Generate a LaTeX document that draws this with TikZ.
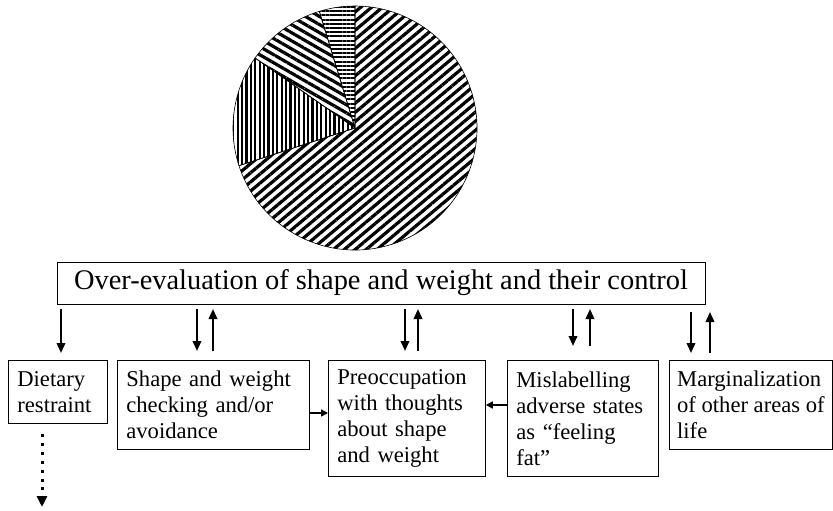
\documentclass[tikz,border=0pt]{standalone}
\usepackage{fontspec}
\setmainfont{Liberation Serif}
\usetikzlibrary{patterns.meta,arrows.meta}
\begin{document}
\begin{tikzpicture}[x=1pt,y=-1pt,
  lbox/.style={draw,line width=0.8pt,anchor=north west,align=left,inner xsep=9pt,inner ysep=0pt,
    font=\fontsize{22.6}{26}\selectfont},
  arr/.style={line width=2pt,-{Triangle[length=10pt,width=8.5pt]}},
  harr/.style={line width=1.6pt,-{Triangle[length=7pt,width=7pt]}},
  darr/.style={line width=3pt,dash pattern=on 3pt off 5.9pt,-{Triangle[length=11pt,width=10pt]}},
  slice/.style={draw,line width=0.6pt}]
\useasboundingbox (0,0) rectangle (833,511);
% pie
\coordinate (C) at (355,128);
\path[slice,pattern={Lines[angle=0,distance=4.2pt,line width=2pt]}]
  (C) -- ++(90:122pt) arc[start angle=90,end angle=107,radius=122pt] -- cycle;
\path[slice,pattern={Lines[angle=-30,distance=7pt,line width=3.2pt]}]
  (C) -- ++(107:122pt) arc[start angle=107,end angle=145,radius=122pt] -- cycle;
\path[slice,pattern={Lines[angle=90,distance=4.4pt,line width=2.2pt]}]
  (C) -- ++(145:122pt) arc[start angle=145,end angle=198,radius=122pt] -- cycle;
\path[slice,pattern={Lines[angle=40,distance=7pt,line width=3.2pt]}]
  (C) -- ++(198:122pt) arc[start angle=198,end angle=450,radius=122pt] -- cycle;
% boxes
\node[draw,line width=0.8pt,minimum width=648pt,minimum height=42pt,inner sep=0pt,
  font=\fontsize{28.4}{34}\selectfont] (top) at (381,283) {Over-evaluation of shape and weight and their control};
\node[lbox,text width=81pt,minimum height=63pt] (diet) at (8,360) {Dietary\\restraint};
\node[lbox,text width=174pt,minimum height=89pt] (check) at (117,360) {Shape and weight\\checking and/or\\avoidance};
\node[lbox,text width=139pt,minimum height=116pt] (preo) at (328,360) {Preoccupation\\with thoughts\\about shape\\and weight};
\node[lbox,text width=133pt,minimum height=116pt] (misl) at (507,360) {Mislabelling\\adverse states\\as “feeling\\fat”};
\node[lbox,inner xsep=7pt,minimum width=163pt,minimum height=89pt] (marg) at (669,360) {Marginalization\\of other areas of\\life};
% arrows
\draw[arr] (61,309) -- (61,353);
\draw[arr] (197,309) -- (197,351);
\draw[arr] (213,351) -- (213,309);
\draw[arr] (405,309) -- (405,351);
\draw[arr] (418,351) -- (418,309);
\draw[arr] (573,309) -- (573,346);
\draw[arr] (590,346) -- (590,309);
\draw[arr] (691,312) -- (691,353);
\draw[arr] (710,353) -- (710,312);
\draw[harr] (check.east |- 0,413) -- (preo.west |- 0,413);
\draw[harr] (misl.west |- 0,405) -- (preo.east |- 0,405);
\draw[darr] (42,434) -- (42,507);
\end{tikzpicture}
\end{document}
